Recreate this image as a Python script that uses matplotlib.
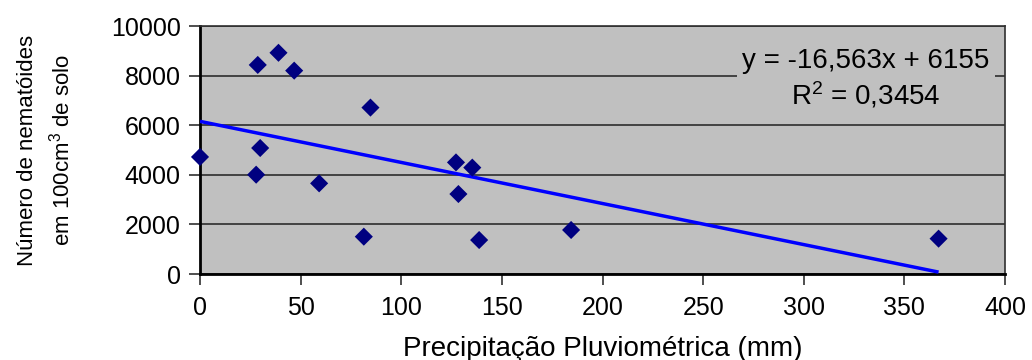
import matplotlib.pyplot as plt
import numpy as np

plt.rcParams['font.family'] = ['Liberation Sans', 'DejaVu Sans']

# Precipitação (mm) e número de nematóides por amostra
precip = [0, 28.7, 39.0, 46.8, 29.9, 27.9, 59.2, 84.7, 81.4,
          127.2, 135.3, 128.4, 138.7, 184.4, 367.0]
nematoides = [4720, 8430, 8920, 8200, 5080, 4005, 3655, 6710, 1505,
              4500, 4290, 3225, 1370, 1775, 1425]

# Coeficientes da reta de tendência
slope = -16.563
intercept = 6155
r2 = 0.3454

fig = plt.figure(figsize=(10.32, 3.6), dpi=100)
ax = fig.add_axes([200 / 1032, 86 / 360, 805 / 1032, 248 / 360])
ax.set_facecolor('#c0c0c0')

ax.set_xlim(0, 400)
ax.set_ylim(0, 10000)
ax.set_xticks(np.arange(0, 401, 50))
ax.set_yticks(np.arange(0, 10001, 2000))
ax.yaxis.grid(True, color='#202020', linewidth=1.1)
ax.set_axisbelow(True)

for s in ax.spines.values():
    s.set_color('#303030')
    s.set_linewidth(1.2)
ax.spines['left'].set_color('black')
ax.spines['bottom'].set_color('black')
ax.spines['left'].set_linewidth(2)
ax.spines['bottom'].set_linewidth(2)

ax.tick_params(direction='out', length=8, width=1.2, color='#303030',
               labelsize=18, pad=6)
ax.tick_params(axis='x', pad=8)

# reta de tendência linear
xr = np.array([0, max(precip)])
ax.plot(xr, slope * xr + intercept, color='#0000ff', linewidth=2.5,
        zorder=3, solid_capstyle='butt')

ax.scatter(precip, nematoides, marker='D', s=85, color='#000080',
           edgecolors='none', zorder=4, clip_on=False)

eq = 'y = %sx + %d\n$\\mathregular{R^2}$ = %s' % (
    str(slope).replace('.', ','), intercept, str(r2).replace('.', ','))
ax.text(331, 7850, eq, ha='center', va='center', fontsize=20,
        linespacing=1.25,
        bbox=dict(facecolor='#c0c0c0', edgecolor='none', pad=4), zorder=5)

ax.set_xlabel('Precipitação Pluviométrica (mm)', fontsize=20, labelpad=11)
ax.set_ylabel('Número de nematóides\nem 100cm$\\mathregular{^3}$ de solo',
              fontsize=16, labelpad=26, linespacing=1.5)

fig.savefig('out.png', dpi=100)
